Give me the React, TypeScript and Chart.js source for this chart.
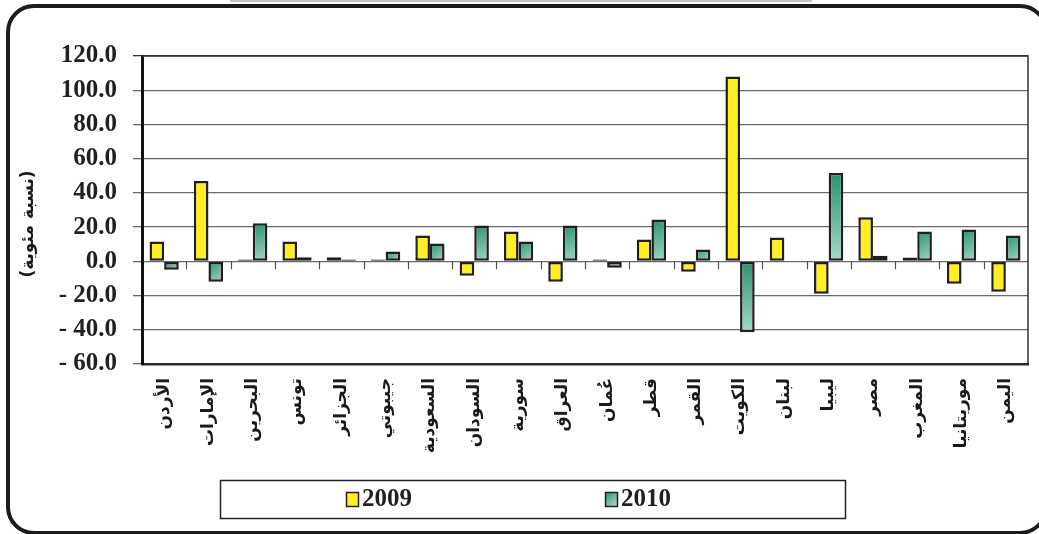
import React, { useEffect, useRef } from "react";
import { Chart, registerables } from "chart.js";

Chart.register(...registerables);

const categories = [
  "الأردن", "الإمارات", "البحرين", "تونس", "الجزائر", "جيبوتي", "السعودية",
  "السودان", "سورية", "العراق", "عُمان", "قطر", "القمر", "الكويت", "لبنان",
  "ليبيا", "مصر", "المغرب", "موريتانيا", "اليمن",
];

const values2009 = [11.6, 46.9, 1.0, 11.6, 2.4, 1.0, 15.1, -8.4, 17.5, -12.0, 1.0, 12.7, -6.1, 108.0, 13.9, -19.0, 25.7, 2.2, -13.1, -17.8];
const values2010 = [-4.9, -12.0, 22.2, 2.4, 1.0, 5.7, 10.4, 21.0, 11.6, 21.0, -3.7, 24.5, 6.9, -41.4, null, 51.6, 3.3, 17.5, 18.6, 15.1];

const seriesLabels = ["2009", "2010"];
const yAxisTitle = "(نسبة مئوية)";
const yMin = -60;
const yMax = 120;
const yStep = 20;

const YELLOW = "#FFEE22";
const GREEN_DARK = "#2A9170";
const GREEN_LIGHT = "#AADCC6";
const EDGE = "#231F20";

function greenFill(ctx: any) {
  const chart = ctx.chart;
  const { chartArea, scales } = chart;
  if (!chartArea || ctx.type !== "data" || ctx.raw == null || !scales.y) return "#6DB99A";
  const y0 = scales.y.getPixelForValue(0);
  const y1 = scales.y.getPixelForValue(ctx.raw);
  const top = Math.min(y0, y1);
  const bottom = Math.max(y0, y1);
  const xc = scales.x.getPixelForValue(ctx.dataIndex) + 7;
  const g = chart.ctx.createLinearGradient(xc - 8, top, xc + 8, bottom + 2);
  g.addColorStop(0, GREEN_DARK);
  g.addColorStop(1, GREEN_LIGHT);
  return g;
}

const framePlugin = {
  id: "framePlugin",
  afterDatasetsDraw(chart: any) {
    const { ctx, chartArea, scales } = chart;
    const { left, right, top, bottom } = chartArea;
    ctx.save();
    ctx.strokeStyle = "#333";
    ctx.lineWidth = 1.5;
    ctx.beginPath();
    ctx.moveTo(left, top);
    ctx.lineTo(right, top);
    ctx.lineTo(right, bottom);
    ctx.stroke();
    const y0 = scales.y.getPixelForValue(0);
    const n = chart.data.labels.length;
    const w = (right - left) / n;
    ctx.strokeStyle = "#555";
    ctx.lineWidth = 1.2;
    ctx.beginPath();
    for (let i = 1; i < n; i++) {
      const x = Math.round(left + i * w) + 0.5;
      ctx.moveTo(x, y0);
      ctx.lineTo(x, y0 + 8);
    }
    ctx.stroke();
    ctx.restore();
  },
  afterDraw(chart: any) {
    const { ctx } = chart;
    ctx.save();
    // y-axis title
    ctx.save();
    ctx.translate(29, 224);
    ctx.rotate(-Math.PI / 2);
    ctx.fillStyle = "#1a1a1a";
    ctx.font = "bold 17px 'DejaVu Sans', sans-serif";
    ctx.textAlign = "center";
    ctx.textBaseline = "middle";
    ctx.fillText(yAxisTitle, 0, 0);
    ctx.restore();
    // legend box
    ctx.strokeStyle = "#222";
    ctx.lineWidth = 1.5;
    ctx.strokeRect(220.5, 480.5, 625, 38);
    const items = [
      { x: 346, fill: YELLOW },
      { x: 605, fill: "green" },
    ];
    chart.data.datasets.forEach((ds: any, i: number) => {
      const it = items[i];
      if (!it) return;
      let fill: any = it.fill;
      if (fill === "green") {
        const g = ctx.createLinearGradient(it.x, 492, it.x + 12, 506);
        g.addColorStop(0, GREEN_DARK);
        g.addColorStop(1, GREEN_LIGHT);
        fill = g;
      }
      ctx.fillStyle = fill;
      ctx.fillRect(it.x, 492, 12, 14);
      ctx.strokeStyle = EDGE;
      ctx.lineWidth = 1.5;
      ctx.strokeRect(it.x + 0.5, 492.5, 12, 14);
      ctx.fillStyle = "#231F20";
      ctx.font = "bold 25px 'Liberation Serif', 'DejaVu Serif', serif";
      ctx.textBaseline = "middle";
      ctx.textAlign = "left";
      ctx.fillText(ds.label, it.x + 16, 500);
    });
    ctx.restore();
  },
};

export default function App() {
  const ref = useRef<HTMLCanvasElement | null>(null);

  useEffect(() => {
    if (!ref.current) return;
    const chart = new Chart(ref.current, {
      type: "bar",
      data: {
        labels: categories,
        datasets: [
          {
            label: seriesLabels[0],
            data: values2009,
            backgroundColor: YELLOW,
            borderColor: EDGE,
            borderWidth: 2.5,
            borderSkipped: false,
          },
          {
            label: seriesLabels[1],
            data: values2010 as any,
            backgroundColor: greenFill as any,
            borderColor: EDGE,
            borderWidth: 2.5,
            borderSkipped: false,
          },
        ],
      },
      options: {
        animation: false,
        responsive: false,
        devicePixelRatio: 1,
        layout: { padding: { top: 56, right: 11, left: 0, bottom: 0 } },
        datasets: { bar: { categoryPercentage: 0.66, barPercentage: 1 } },
        plugins: {
          legend: { display: false },
          tooltip: { enabled: false },
        },
        scales: {
          x: {
            grid: { display: false },
            border: { display: true, color: "#2a2a2a", width: 2.5 },
            ticks: {
              autoSkip: false,
              minRotation: 90,
              maxRotation: 90,
              padding: 6,
              color: "#1a1a1a",
              font: { family: "'DejaVu Sans', sans-serif", size: 17, weight: "bold" },
            },
            afterFit: (s: any) => {
              s.height = 170;
            },
          },
          y: {
            min: yMin,
            max: yMax,
            ticks: {
              stepSize: yStep,
              padding: 16,
              color: "#231F20",
              font: { family: "'Liberation Serif', 'DejaVu Serif', serif", size: 25, weight: "bold" },
              callback: (v: any) => (v < 0 ? "- " + Math.abs(v).toFixed(1) : Number(v).toFixed(1)),
            },
            grid: {
              color: (c: any) => (c.tick && c.tick.value === yMax ? "#333" : "#6a6a6a"),
              lineWidth: 1.3,
              tickLength: 9,
            },
            border: { display: true, color: "#111", width: 3 },
            afterFit: (s: any) => {
              s.width = 142;
            },
          },
        },
      },
      plugins: [framePlugin],
    });
    return () => chart.destroy();
  }, []);

  return (
    <div style={{ position: "fixed", left: 0, top: 0, width: 1039, height: 534, overflow: "hidden", background: "#fff" }}>
      <div style={{ position: "absolute", left: 230, top: 0, width: 582, height: 2, background: "#c4c4c4" }} />
      <div
        style={{
          position: "absolute",
          left: 6,
          top: 4,
          width: 1042,
          height: 531,
          boxSizing: "border-box",
          border: "4px solid #1c1c1c",
          borderRadius: 28,
        }}
      />
      <canvas ref={ref} width={1039} height={534} style={{ position: "absolute", left: 0, top: 0, width: 1039, height: 534 }} />
    </div>
  );
}
